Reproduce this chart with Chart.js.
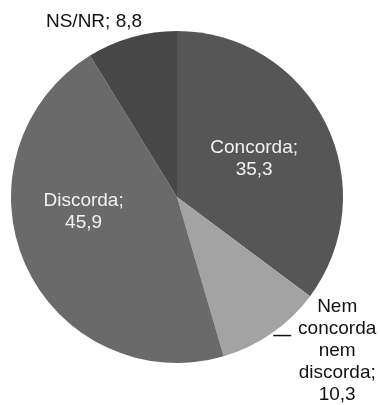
<!DOCTYPE html>
<html>
<head>
<meta charset="utf-8">
<script src="https://cdn.jsdelivr.net/npm/chart.js@4/dist/chart.umd.min.js"></script>
<style>
  html, body { margin: 0; padding: 0; background: #fff; }
  #wrap { width: 380px; height: 405px; }
</style>
</head>
<body>
<div id="wrap"><canvas id="pieChart" width="380" height="405"></canvas></div>
<script>
/* respostas (%) */
var categorias = ["Concorda", "Nem concorda nem discorda", "Discorda", "NS/NR"];
var valores = [35.3, 10.3, 45.9, 8.8];
var cores = ["#565656", "#a3a3a3", "#6a6a6a", "#474747"];

// linhas do rótulo de cada fatia
var rotulos = [
    ["Concorda;", "35,3"],
    ["Nem", "concorda", "nem", "discorda;", "10,3"],
    ["Discorda;", "45,9"],
    ["NS/NR; 8,8"]
];

// onde fica cada rótulo: dentro (fração do raio) ou fora
var posRotulo = [
    { dentro: true, r: 0.52, da: 0, cor: "#f2f2f2" },
    { dentro: false, cor: "#111" },
    { dentro: true, r: 0.57, da: 0.26, cor: "#f2f2f2" },
    { dentro: false, cor: "#111" }
];

var rotulosPlugin = {
    id: 'rotulos',
    afterDatasetsDraw: function (chart) {
        var ctx = chart.ctx;
        var meta = chart.getDatasetMeta(0);
        var lh = 22;
        ctx.save();
        ctx.font = "19px 'Liberation Sans', Arial, sans-serif";
        ctx.textAlign = "center";
        ctx.textBaseline = "middle";
        meta.data.forEach(function (arc, i) {
            var p = posRotulo[i];
            var linhas = rotulos[i];
            var meio = (arc.startAngle + arc.endAngle) / 2;
            var R = arc.outerRadius;
            var x, y;
            if (p.dentro) {
                var a = meio + p.da;
                x = arc.x + Math.cos(a) * R * p.r;
                y = arc.y + Math.sin(a) * R * p.r;
            } else if (i === 1) {
                // rótulo à direita, abaixo da fatia, com linha guia
                x = arc.x + R * 0.965;
                y = arc.y + R * 0.925;
                ctx.strokeStyle = "#111";
                ctx.lineWidth = 1.5;
                ctx.beginPath();
                ctx.moveTo(x - 64, y - 15);
                ctx.lineTo(x - 46, y - 15);
                ctx.stroke();
            } else {
                // acima da fatia
                x = arc.x - R * 0.5;
                y = arc.y - R - 9;
            }
            ctx.fillStyle = p.cor;
            var y0 = y - (linhas.length - 1) * lh / 2;
            linhas.forEach(function (t, k) {
                ctx.fillText(t, x, y0 + k * lh);
            });
        });
        ctx.restore();
    }
};

var chartdata = {
    labels: categorias,
    datasets: [
        {
            data: valores,
            backgroundColor: cores,
            borderWidth: 0
        }
    ]
};

var graphTarget = document.getElementById("pieChart");

var pieGraph = new Chart(graphTarget, {
    type: 'pie',
    data: chartdata,
    plugins: [rotulosPlugin],
    options: {
        responsive: false,
        animation: false,
        layout: { padding: { left: 11, right: 37, top: 31, bottom: 42 } },
        plugins: {
            legend: { display: false },
            tooltip: { enabled: false }
        }
    }
});
</script>
</body>
</html>
